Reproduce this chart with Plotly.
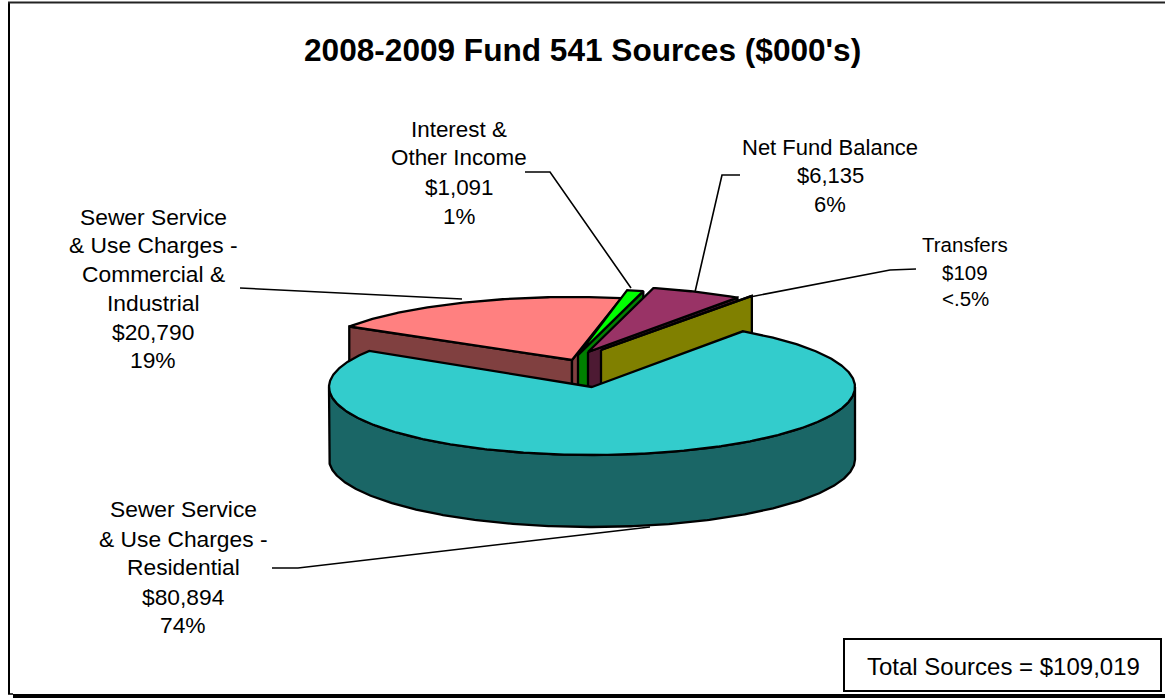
import math
import plotly.graph_objects as go

# Fund sources in thousands of dollars, in the order they run clockwise
source_names = ["Residential", "Commercial", "Interest", "Net Fund", "Transfers"]
source_values = [80894, 20790, 1091, 6135, 109]
top_colors = ["#33CCCC", "#FF8080", "#00FF00", "#993366", "#FFFF00"]
wall_colors = ["#1A6666", "#804040", "#008000", "#4D1A33", "#808000"]

title_text = "2008-2009 Fund 541 Sources ($000's)"
total_text = "Total Sources = $109,019"

label_lines = [
    ["Sewer Service", "& Use Charges -", "Residential", "$80,894", "74%"],
    ["Sewer Service", "& Use Charges -", "Commercial &", "Industrial", "$20,790", "19%"],
    ["Interest &", "Other Income", "$1,091", "1%"],
    ["Net Fund Balance", "$6,135", "6%"],
    ["Transfers", "$109", "<.5%"],
]
label_x = [183, 153, 459, 830, 965]
label_y = [
    [509, 539, 567, 597, 625],
    [217, 245, 274, 303, 332, 360],
    [129, 157, 187, 216],
    [147, 175, 204],
    [244, 272, 298],
]
label_size = [22.8, 22.8, 22.4, 22, 20.5]

# Leader lines from each label to its slice
leaders = [
    ([272, 298, 650], [568, 568, 527]),
    ([240, 462], [288, 299]),
    ([525, 550, 631], [172, 172, 288]),
    ([740, 722, 695], [175, 175, 292]),
    ([916, 890, 750], [269, 270, 297]),
]

# Pie geometry on the pixel-scaled axes
START_ANGLE = 35.0
RX = 263
DEPTH = 72
apex_x = [592, 572, 578, 588, 601]   # exploded apex of each slice
apex_y = [387, 360, 355, 352, 350]
rim_ry = [68, 63, 66, 66, 66]        # foreshortened vertical radius per slice


def rim_point(i, deg):
    a = math.radians(deg)
    return apex_x[i] + RX * math.sin(a), apex_y[i] - rim_ry[i] * math.cos(a)


def arc(i, a0, a1):
    n = max(2, int(abs(a1 - a0) * 2) + 1)
    return [rim_point(i, a0 + (a1 - a0) * k / (n - 1)) for k in range(n)]


def polygon(points, color):
    xs = [p[0] for p in points] + [points[0][0]]
    ys = [p[1] for p in points] + [points[0][1]]
    return go.Scatter(
        x=xs, y=ys, mode="lines", fill="toself", fillcolor=color,
        line=dict(color="black", width=2.3), hoverinfo="skip", showlegend=False,
    )


def dropped(points):
    return [(x, y + DEPTH) for x, y in points]


def slice_traces(i, a0, a1):
    traces = []
    apex = (apex_x[i], apex_y[i])
    wall = wall_colors[i]
    # Cut faces are drawn only when they turn towards the viewer
    if math.sin(math.radians(a0)) < 0:
        p = rim_point(i, a0)
        traces.append(polygon([apex, p, (p[0], p[1] + DEPTH), (apex[0], apex[1] + DEPTH)], wall))
    if math.sin(math.radians(a1)) > 0:
        p = rim_point(i, a1)
        traces.append(polygon([apex, p, (p[0], p[1] + DEPTH), (apex[0], apex[1] + DEPTH)], wall))
    # Outer wall covers only the front half of the rim
    lo, hi = max(a0, 90), min(a1, 270)
    if lo < hi:
        top = arc(i, lo, hi)
        traces.append(polygon(top + dropped(top)[::-1], wall))
    traces.append(polygon([apex] + arc(i, a0, a1), top_colors[i]))
    return traces


total = sum(source_values)
spans = []
angle = START_ANGLE
for v in source_values:
    spans.append((angle, angle + v / total * 360))
    angle = spans[-1][1]

fig = go.Figure()

# Back slices first, then the large front slice over their walls
for i in [1, 2, 3, 4, 0]:
    for t in slice_traces(i, *spans[i]):
        fig.add_trace(t)

for xs, ys in leaders:
    fig.add_trace(go.Scatter(x=xs, y=ys, mode="lines", line=dict(color="black", width=1.6),
                             hoverinfo="skip", showlegend=False))

annotations = [dict(x=582, y=50, text=f"<b>{title_text}</b>", font=dict(size=31.6))]
for lines, x, ys, size in zip(label_lines, label_x, label_y, label_size):
    for line, y in zip(lines, ys):
        annotations.append(dict(x=x, y=y, text=line.replace("<", "&lt;"), font=dict(size=size)))
annotations.append(dict(x=1003, y=666, text=total_text, font=dict(size=24)))
for a in annotations:
    a.update(xref="x", yref="y", showarrow=False, xanchor="center", yanchor="middle")
    a["font"].update(family="Liberation Sans, Arial, sans-serif", color="black")

# Chart frame: thin left, top and bottom rules plus the heavy base line
shapes = [
    dict(type="line", x0=9, x1=9, y0=2, y1=694, line=dict(color="black", width=2)),
    dict(type="line", x0=8, x1=1165, y0=2.5, y1=2.5, line=dict(color="#222222", width=2)),
    dict(type="line", x0=8, x1=13, y0=694, y1=694, line=dict(color="black", width=1.5)),
    dict(type="line", x0=13, x1=1165, y0=696, y1=696, line=dict(color="black", width=4)),
    dict(type="rect", x0=844, x1=1161, y0=639, y1=691, line=dict(color="black", width=2), fillcolor="white"),
]

fig.update_layout(
    width=1165, height=698,
    margin=dict(l=0, r=0, t=0, b=0),
    paper_bgcolor="white", plot_bgcolor="white",
    xaxis=dict(range=[0, 1165], visible=False, fixedrange=True),
    yaxis=dict(range=[698, 0], visible=False, fixedrange=True),
    showlegend=False,
    annotations=annotations,
    shapes=shapes,
)

fig.write_html("out.html", config={"displayModeBar": False})
